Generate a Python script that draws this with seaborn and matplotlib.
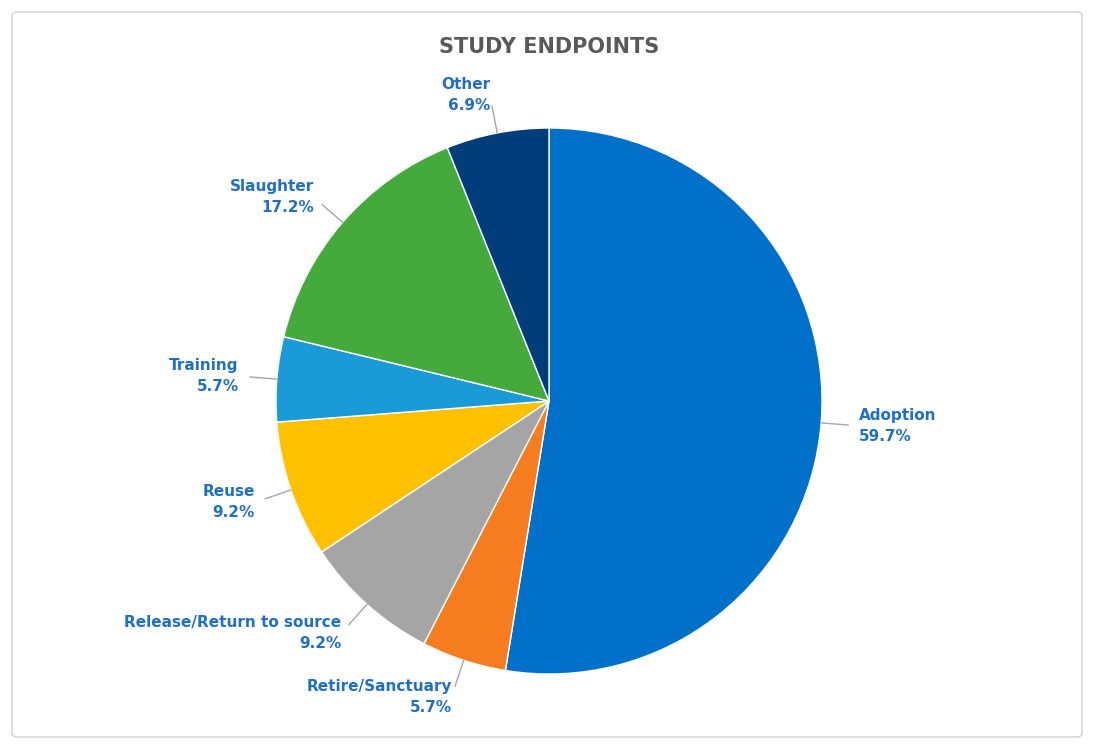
import numpy as np
import matplotlib
matplotlib.use("Agg")
import matplotlib.pyplot as plt
from matplotlib.patches import FancyBboxPatch
import seaborn as sns

categories = ["Adoption", "Retire/Sanctuary", "Release/Return to source", "Reuse", "Training", "Slaughter", "Other"]
values = [59.7, 5.7, 9.2, 9.2, 5.7, 17.2, 6.9]
colors = sns.color_palette(["#0070C8", "#F57D20", "#A5A5A5", "#FFC000", "#1A9AD6", "#44AA3C", "#003D7A"])

sns.set_theme(style="white")
fig = plt.figure(figsize=(10.94, 7.49), dpi=100)
fig.patches.append(FancyBboxPatch((12/1094, 12/749), 1070/1094, 725/749, boxstyle="round,pad=0,rounding_size=0.005",
                                  transform=fig.transFigure, fill=False, edgecolor="#D0D0D0", linewidth=1))
ax = fig.add_axes([276/1094, 75/749, 546/1094, 546/749])
wedges, _ = ax.pie(values, colors=colors, startangle=90, counterclock=False, radius=1.0)
ax.set_xlim(-1, 1); ax.set_ylim(-1, 1); ax.set_aspect("equal"); ax.axis("off")

lab_col = "#1F6FC5"
for w, c, v in zip(wedges, categories, values):
    ang = np.deg2rad((w.theta1 + w.theta2) / 2)
    x, y = np.cos(ang), np.sin(ang)
    ax.plot([x, 1.1 * x], [y, 1.1 * y], color="#A6A6A6", lw=1, clip_on=False)
    ha = "left" if x > 0.1 else ("right" if x < -0.1 else "center")
    ax.text(1.14 * x, 1.14 * y, f"{c}\n{v}%", ha=ha, va="center", color=lab_col,
            fontsize=11, fontweight="bold", linespacing=1.5, clip_on=False)

fig.text(549/1094, 1 - 47/749, "STUDY ENDPOINTS", ha="center", va="center",
         fontsize=15, fontweight="bold", color="#595959")
fig.savefig("out.png", dpi=100)
